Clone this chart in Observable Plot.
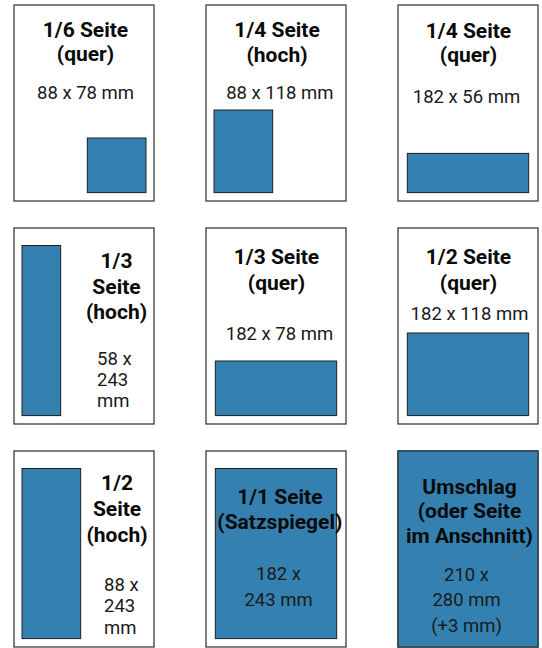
<!DOCTYPE html>
<html>
<head>
<meta charset="utf-8">
<script src="https://cdn.jsdelivr.net/npm/d3@7"></script>
<script src="https://cdn.jsdelivr.net/npm/@observablehq/plot@0.6"></script>
<style>
  html, body { margin: 0; padding: 0; background: #fff; }
  #chart svg { display: block; }
</style>
</head>
<body>
<div id="chart"></div>
<script>
// ---- Data ----
const adTitles = [
  ["1/6 Seite", "(quer)"],
  ["1/4 Seite", "(hoch)"],
  ["1/4 Seite", "(quer)"],
  ["1/3", "Seite", "(hoch)"],
  ["1/3 Seite", "(quer)"],
  ["1/2 Seite", "(quer)"],
  ["1/2", "Seite", "(hoch)"],
  ["1/1 Seite", "(Satzspiegel)"],
  ["Umschlag", "(oder Seite", "im Anschnitt)"]
];
const adDims = [
  ["88 x 78 mm"],
  ["88 x 118 mm"],
  ["182 x 56 mm"],
  ["58 x", "243", "mm"],
  ["182 x 78 mm"],
  ["182 x 118 mm"],
  ["88 x", "243", "mm"],
  ["182 x", "243 mm"],
  ["210 x", "280 mm", "(+3 mm)"]
];
const adWidthMM  = [88, 88, 182, 58, 182, 182, 88, 182, 210];
const adHeightMM = [78, 118, 56, 243, 78, 118, 243, 243, 280];
const adAnchor   = ["br", "bl", "b", "l", "b", "b", "l", "c", "full"];
const pageWidthMM = 210;
const pageHeightMM = 280;

// ---- Layout (page-mm units inside each page) ----
const textLayout = [
  {tx: 106.5, ty: 45.7, tStep: 33.5, dx: 106.5, dy: 132.9, dStep: 31, dAnchor: "middle"},
  {tx: 105.8, ty: 45.7, tStep: 34.3, dx: 110.0, dy: 132.9, dStep: 31, dAnchor: "middle"},
  {tx: 105.0, ty: 47.1, tStep: 34.3, dx: 102.0, dy: 138.6, dStep: 31, dAnchor: "middle"},
  {tx: 153.0, ty: 57.1, tStep: 36.0, dx: 123.8, dy: 195.7, dStep: 29.5, dAnchor: "start"},
  {tx: 105.0, ty: 51.4, tStep: 37.0, dx: 109.5, dy: 158.6, dStep: 31, dAnchor: "middle"},
  {tx: 105.0, ty: 51.4, tStep: 37.0, dx: 106.5, dy: 130.0, dStep: 31, dAnchor: "middle"},
  {tx: 153.8, ty: 55.7, tStep: 36.5, dx: 134.3, dy: 198.6, dStep: 30.7, dAnchor: "start"},
  {tx: 110.0, ty: 74.3, tStep: 35.7, dx: 108.0, dy: 182.9, dStep: 37.1, dAnchor: "middle"},
  {tx: 106.5, ty: 60.0, tStep: 35.7, dx: 102.0, dy: 184.3, dStep: 37.1, dAnchor: "middle"}
];
const sideMargin = 12, bottomMargin = 12;

function place(w, h, a) {
  if (a === "full") return {x1: 0, x2: pageWidthMM, y1: 0, y2: pageHeightMM};
  const x1 = a === "br" ? pageWidthMM - sideMargin - w
           : (a === "bl" || a === "l") ? sideMargin
           : (pageWidthMM - w) / 2;
  const y2 = pageHeightMM - bottomMargin;
  return {x1, x2: x1 + w, y1: y2 - h, y2};
}

const ads = adTitles.map((t, i) => ({
  i, col: i % 3, row: Math.floor(i / 3),
  ...place(adWidthMM[i], adHeightMM[i], adAnchor[i])
}));

const titleRows = [];
const dimRows = [];
ads.forEach(({i, col, row}) => {
  const L = textLayout[i];
  adTitles[i].forEach((s, k) => titleRows.push({col, row, text: s, x: L.tx, y: L.ty + k * L.tStep}));
  adDims[i].forEach((s, k) => dimRows.push({col, row, text: s, x: L.dx, y: L.dy + k * L.dStep, anchor: L.dAnchor}));
});

const font = "Roboto, 'DejaVu Sans', sans-serif";

const chart = Plot.plot({
  width: 542,
  height: 648,
  margin: 0,
  style: {background: "#fff", fontFamily: font},
  fx: {axis: null, domain: [0, 1, 2], range: [13, 538], paddingInner: 0.2727, paddingOuter: 0},
  fy: {axis: null, domain: [0, 1, 2], range: [4, 647], paddingInner: 0.123, paddingOuter: 0},
  x: {axis: null, domain: [0, pageWidthMM]},
  y: {axis: null, domain: [0, pageHeightMM], reverse: true},
  marks: [
    Plot.rect(ads, {fx: "col", fy: "row", x1: () => 0, x2: () => pageWidthMM, y1: () => 0, y2: () => pageHeightMM,
      fill: "#fff", stroke: "#3c3c3c", strokeWidth: 1.3}),
    Plot.rect(ads, {fx: "col", fy: "row", x1: "x1", x2: "x2", y1: "y1", y2: "y2",
      fill: "#3481b1", stroke: "#1e1e1e", strokeWidth: 1}),
    Plot.text(titleRows, {fx: "col", fy: "row", x: "x", y: "y", text: "text",
      lineAnchor: "bottom", textAnchor: "middle", fontFamily: font, fontWeight: "bold", fontSize: 21, fill: "#0a0a0a"}),
    Plot.text(dimRows.filter(d => d.anchor === "middle"), {fx: "col", fy: "row", x: "x", y: "y", text: "text",
      lineAnchor: "bottom", textAnchor: "middle", fontFamily: font, fontSize: 18.5, fill: "#1a1a1a"}),
    Plot.text(dimRows.filter(d => d.anchor === "start"), {fx: "col", fy: "row", x: "x", y: "y", text: "text",
      lineAnchor: "bottom", textAnchor: "start", fontFamily: font, fontSize: 18.5, fill: "#1a1a1a"})
  ]
});
document.getElementById("chart").appendChild(chart);
</script>
</body>
</html>
